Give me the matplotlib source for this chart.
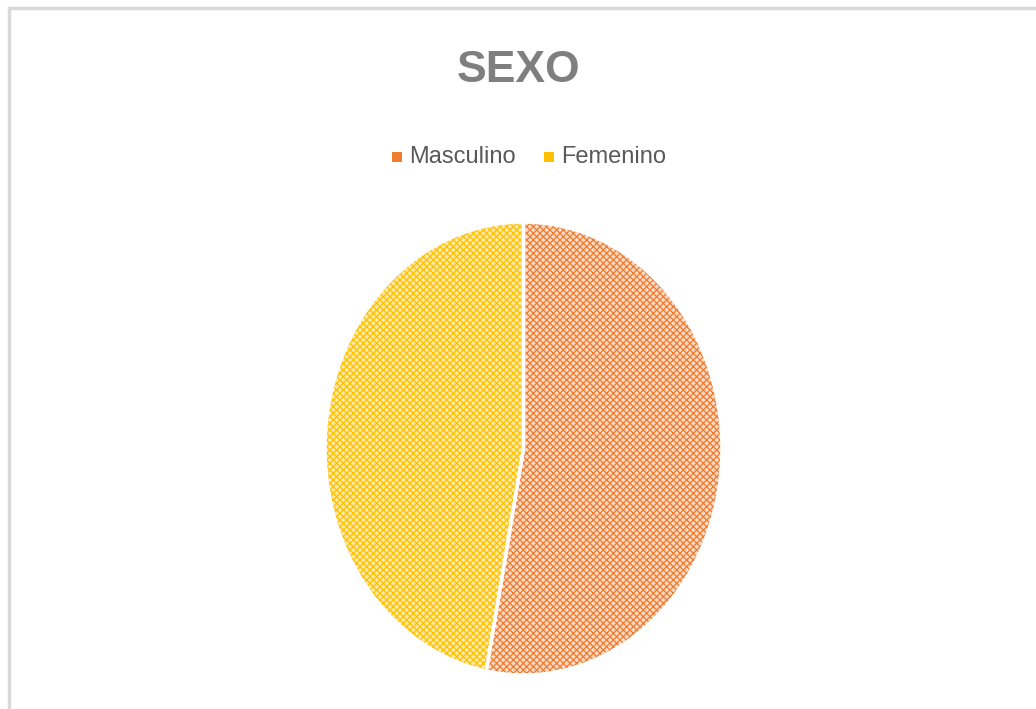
import matplotlib.pyplot as plt
from matplotlib.patches import Rectangle, Wedge

labels = ['Masculino', 'Femenino']
values = [53, 47]
edge_colors = ['#ed7d31', '#ffc000']
fill_colors = ['#fbd9c4', '#ffe9a3']

plt.rcParams['hatch.linewidth'] = 0.9
font = ['Liberation Sans', 'DejaVu Sans']

fig = plt.figure(figsize=(10.36, 7.09), dpi=100)
fig.patch.set_facecolor('white')

# outer frame (only top/left visible in the reference)
fig.patches.append(Rectangle((9 / 1036, -0.1), 1.2, 1 - 8 / 709 + 0.1,
                             transform=fig.transFigure, fill=False,
                             edgecolor='#d9d9d9', linewidth=2.5))

ax = fig.add_axes([325 / 1036, 1 - 675 / 709, 397 / 1036, 453 / 709])
wedges, _ = ax.pie(values, startangle=90, counterclock=False,
                   colors=fill_colors,
                   wedgeprops=dict(edgecolor='white', linewidth=2.5))
for w, c in zip(wedges, edge_colors):
    w.set_hatch('xxxxx')
    # hatch color follows edgecolor, so the white border is drawn again below
    w.set_edgecolor(c)
    w.set_linewidth(0)
for w in wedges:
    ax.add_patch(Wedge(w.center, w.r, w.theta1, w.theta2,
                       fill=False, edgecolor='white', linewidth=2.5))
ax.set_aspect('auto')
ax.set_xlim(-1.0, 1.0)
ax.set_ylim(-1.0, 1.0)

fig.text(518 / 1036, 1 - 70 / 709, 'SEXO', ha='center', va='center',
         fontsize=32, fontweight='bold', color='#7f7f7f', family=font)

# legend
leg_x = [397, 549]
for lab, c, x in zip(labels, edge_colors, leg_x):
    fig.patches.append(Rectangle(((x - 5) / 1036, 1 - 162 / 709), 10 / 1036, 10 / 709,
                                 transform=fig.transFigure, facecolor=c,
                                 edgecolor='none'))
    fig.text((x + 12) / 1036, 1 - 157 / 709, lab, ha='left', va='center',
             fontsize=17, color='#595959', family=font)

fig.savefig('out.png', dpi=100)
